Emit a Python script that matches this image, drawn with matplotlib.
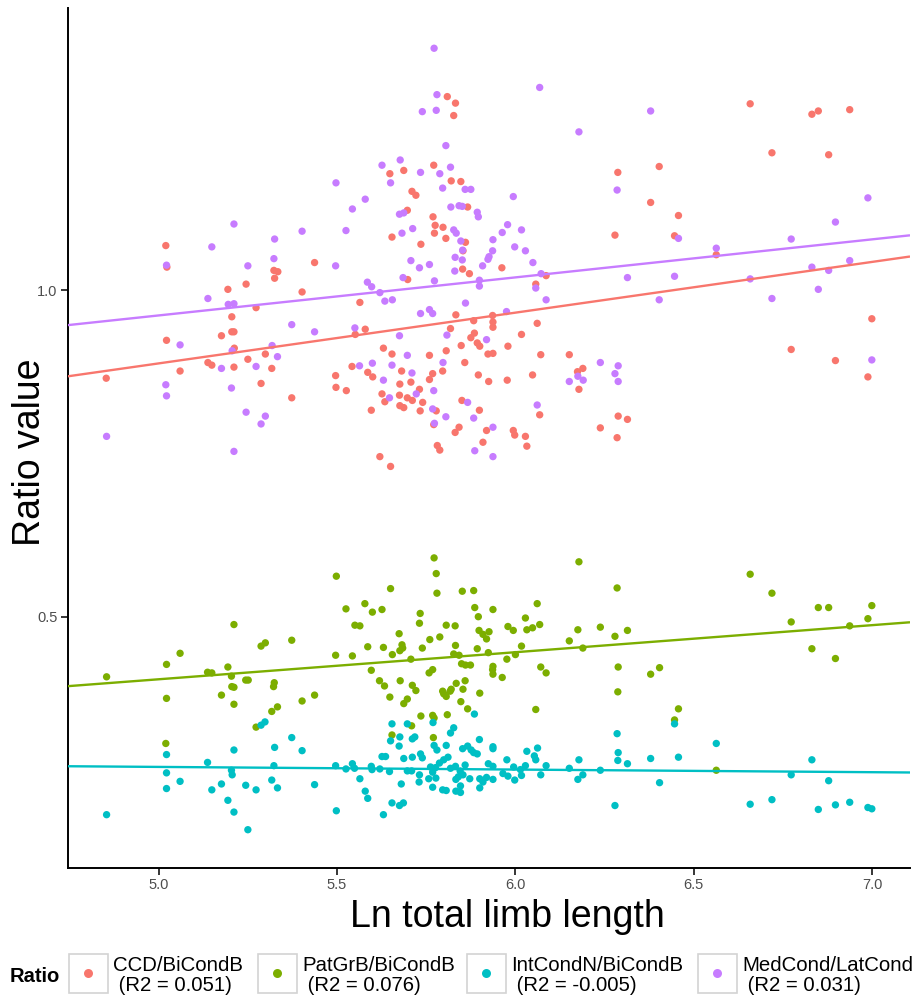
import numpy as np
import matplotlib
matplotlib.use("Agg")
import matplotlib.pyplot as plt
from matplotlib.patches import Rectangle

plt.rcParams["font.family"] = ["Liberation Sans", "DejaVu Sans"]

# ---- data: (Ln total limb length, ratio value) per specimen ----
ccd_points = [
    (5.809, 1.296), (5.832, 1.286), (5.827, 1.267), (5.771, 1.191), (5.648, 1.178),
    (5.687, 1.183), (5.820, 1.167), (5.847, 1.166), (5.710, 1.151), (5.721, 1.145),
    (5.866, 1.127), (5.697, 1.122), (5.769, 1.112), (5.775, 1.099), (5.797, 1.096),
    (5.773, 1.087), (5.654, 1.081), (5.805, 1.079), (5.860, 1.073), (5.020, 1.068),
    (5.735, 1.070), (5.853, 1.060), (5.023, 1.035), (5.437, 1.042), (5.962, 1.034),
    (5.852, 1.032), (5.323, 1.030), (5.334, 1.028), (5.325, 1.018), (5.871, 1.025),
    (5.698, 1.016), (5.245, 1.009), (5.194, 1.001), (5.402, 0.997), (5.564, 0.981),
    (5.273, 0.973), (5.833, 0.962), (5.936, 0.961), (5.205, 0.959), (5.883, 0.953),
    (5.937, 0.951), (5.937, 0.943), (5.579, 0.940), (5.818, 0.941), (5.205, 0.936),
    (5.211, 0.936), (5.885, 0.934), (5.551, 0.932), (5.176, 0.930), (5.875, 0.927),
    (5.022, 0.923), (5.893, 0.919), (5.900, 0.914), (5.848, 0.915), (5.979, 0.914),
    (5.630, 0.911), (5.212, 0.911), (5.806, 0.907), (5.654, 0.902), (5.299, 0.902),
    (5.923, 0.902), (5.937, 0.903), (5.759, 0.900), (5.250, 0.894), (5.138, 0.889),
    (5.149, 0.885), (5.858, 0.889), (5.542, 0.883), (5.211, 0.882), (5.317, 0.880),
    (5.681, 0.876), (5.796, 0.876), (5.060, 0.876), (5.586, 0.874), (5.768, 0.872),
    (5.600, 0.867), (5.496, 0.869), (5.896, 0.870), (4.853, 0.865), (5.977, 0.862),
    (5.707, 0.859), (5.759, 0.863), (5.925, 0.860), (5.676, 0.856), (5.287, 0.857),
    (5.497, 0.851), (5.731, 0.848), (5.526, 0.846), (5.626, 0.841), (5.373, 0.835),
    (5.675, 0.839), (5.697, 0.835), (5.850, 0.831), (5.634, 0.829), (5.711, 0.831),
    (5.740, 0.828), (5.676, 0.823), (5.687, 0.820), (5.778, 0.815), (5.733, 0.815),
    (5.596, 0.816), (5.899, 0.816), (5.771, 0.794), (5.842, 0.790), (5.919, 0.785),
    (5.994, 0.785), (5.831, 0.782), (5.998, 0.778), (5.909, 0.767), (5.781, 0.762),
    (5.788, 0.755), (5.620, 0.745), (5.650, 0.730), (6.658, 1.285), (6.831, 1.269),
    (6.849, 1.274), (6.937, 1.276), (6.719, 1.210), (6.878, 1.207), (6.287, 1.180),
    (6.403, 1.189), (6.379, 1.134), (6.457, 1.114), (6.279, 1.084), (6.446, 1.083),
    (6.563, 1.054), (6.086, 1.022), (6.057, 1.009), (6.999, 0.956), (6.061, 0.949),
    (6.017, 0.932), (6.773, 0.909), (6.897, 0.892), (6.988, 0.867), (6.071, 0.901),
    (6.151, 0.901), (6.174, 0.875), (6.189, 0.880), (6.178, 0.848), (6.048, 0.870),
    (6.068, 0.809), (6.288, 0.807), (6.314, 0.802), (6.238, 0.789), (6.285, 0.774),
    (6.028, 0.776), (6.032, 0.761),
]

patgrb_points = [
    (5.772, 0.590), (5.778, 0.566), (5.498, 0.562), (5.780, 0.536), (5.650, 0.543),
    (5.851, 0.539), (5.883, 0.540), (5.578, 0.520), (5.525, 0.512), (5.599, 0.507),
    (5.626, 0.511), (5.886, 0.514), (5.937, 0.511), (5.733, 0.505), (5.896, 0.500),
    (5.211, 0.488), (5.731, 0.490), (5.550, 0.487), (5.564, 0.486), (5.806, 0.487),
    (5.831, 0.486), (5.898, 0.479), (5.909, 0.473), (5.926, 0.477), (5.919, 0.466),
    (5.979, 0.485), (5.994, 0.479), (5.674, 0.474), (5.788, 0.469), (5.760, 0.465),
    (5.373, 0.464), (5.299, 0.460), (5.287, 0.455), (5.586, 0.454), (5.630, 0.453),
    (5.682, 0.457), (5.684, 0.452), (5.676, 0.448), (5.739, 0.452), (5.832, 0.456),
    (5.893, 0.451), (5.060, 0.444), (5.496, 0.441), (5.543, 0.440), (5.655, 0.442),
    (5.827, 0.443), (5.842, 0.441), (5.924, 0.445), (6.000, 0.442), (5.707, 0.435),
    (5.976, 0.435), (5.022, 0.427), (5.849, 0.428), (5.860, 0.426), (5.874, 0.426),
    (5.194, 0.423), (5.937, 0.424), (5.936, 0.419), (5.596, 0.418), (5.768, 0.419),
    (5.758, 0.414), (5.137, 0.415), (5.149, 0.414), (5.937, 0.412), (5.963, 0.407),
    (4.854, 0.408), (5.204, 0.409), (5.244, 0.403), (5.251, 0.403), (5.619, 0.402),
    (5.677, 0.402), (5.859, 0.402), (5.324, 0.399), (5.322, 0.393), (5.633, 0.394),
    (5.711, 0.395), (5.834, 0.398), (5.205, 0.393), (5.211, 0.392), (5.721, 0.387),
    (5.820, 0.389), (5.817, 0.386), (5.796, 0.386), (5.853, 0.389), (5.799, 0.382),
    (5.806, 0.378), (5.176, 0.380), (5.437, 0.380), (5.900, 0.383), (5.022, 0.375),
    (5.648, 0.377), (5.697, 0.374), (5.687, 0.367), (5.402, 0.371), (5.847, 0.370),
    (5.211, 0.366), (5.333, 0.362), (5.317, 0.355), (5.866, 0.359), (5.735, 0.348),
    (5.768, 0.349), (5.809, 0.350), (5.772, 0.345), (5.273, 0.331), (5.709, 0.333),
    (5.654, 0.319), (5.770, 0.315), (5.020, 0.306), (6.178, 0.584), (6.658, 0.565),
    (6.285, 0.544), (6.719, 0.536), (6.061, 0.520), (6.849, 0.514), (6.878, 0.514),
    (6.999, 0.517), (6.773, 0.492), (6.988, 0.497), (6.028, 0.498), (6.068, 0.488),
    (6.238, 0.484), (6.048, 0.483), (6.032, 0.480), (6.175, 0.480), (6.314, 0.479),
    (6.937, 0.486), (6.279, 0.470), (6.151, 0.463), (6.017, 0.455), (6.189, 0.452),
    (6.831, 0.451), (6.897, 0.436), (6.288, 0.423), (6.071, 0.423), (6.404, 0.422),
    (6.086, 0.414), (6.379, 0.412), (6.287, 0.385), (6.057, 0.358), (6.457, 0.359),
    (6.446, 0.342), (6.563, 0.265),
]

intcondn_points = [
    (5.885, 0.351), (5.769, 0.338), (5.654, 0.336), (5.697, 0.336), (5.298, 0.339),
    (5.287, 0.334), (5.827, 0.330), (5.818, 0.322), (5.718, 0.316), (5.711, 0.313),
    (5.676, 0.316), (5.650, 0.310), (5.373, 0.315), (5.899, 0.312), (5.674, 0.302),
    (5.772, 0.303), (5.780, 0.296), (5.806, 0.303), (5.866, 0.302), (5.852, 0.298),
    (5.876, 0.296), (5.883, 0.292), (5.893, 0.290), (5.937, 0.301), (5.937, 0.298),
    (5.211, 0.296), (5.325, 0.300), (5.402, 0.295), (5.022, 0.289), (5.734, 0.290),
    (5.739, 0.284), (5.687, 0.283), (5.711, 0.285), (5.811, 0.285), (5.799, 0.281),
    (5.787, 0.276), (5.626, 0.286), (5.636, 0.286), (5.976, 0.281), (5.137, 0.277),
    (5.543, 0.275), (5.924, 0.275), (5.937, 0.271), (5.859, 0.273), (5.496, 0.272),
    (5.323, 0.272), (5.596, 0.271), (5.818, 0.268), (5.832, 0.271), (5.762, 0.270),
    (5.776, 0.269), (5.525, 0.267), (5.549, 0.268), (5.598, 0.266), (5.620, 0.267),
    (5.995, 0.270), (6.014, 0.266), (5.204, 0.265), (5.647, 0.263), (5.697, 0.264),
    (5.709, 0.264), (5.768, 0.262), (5.022, 0.261), (5.206, 0.258), (5.731, 0.258),
    (5.845, 0.264), (5.853, 0.258), (5.965, 0.260), (5.979, 0.256), (5.900, 0.252),
    (5.919, 0.254), (5.937, 0.251), (5.998, 0.250), (5.757, 0.252), (5.777, 0.253),
    (5.840, 0.255), (5.833, 0.251), (5.872, 0.252), (5.564, 0.252), (5.060, 0.248),
    (5.317, 0.250), (5.730, 0.247), (5.909, 0.247), (5.176, 0.244), (5.244, 0.242),
    (5.437, 0.243), (5.680, 0.244), (5.022, 0.237), (5.149, 0.235), (5.273, 0.235),
    (5.333, 0.238), (5.768, 0.239), (5.796, 0.235), (5.806, 0.234), (5.900, 0.238),
    (5.846, 0.241), (5.833, 0.233), (5.846, 0.231), (5.579, 0.233), (5.586, 0.222),
    (5.194, 0.219), (5.654, 0.215), (5.686, 0.215), (5.675, 0.211), (5.211, 0.201),
    (5.498, 0.203), (5.630, 0.197), (4.854, 0.197), (5.250, 0.174), (6.285, 0.321),
    (6.563, 0.306), (6.446, 0.336), (6.288, 0.292), (6.287, 0.280), (6.314, 0.275),
    (6.379, 0.283), (6.457, 0.285), (6.831, 0.281), (6.062, 0.299), (6.053, 0.287),
    (6.057, 0.281), (6.032, 0.294), (6.028, 0.272), (6.086, 0.272), (6.071, 0.258),
    (6.017, 0.257), (6.151, 0.268), (6.178, 0.281), (6.175, 0.251), (6.189, 0.258),
    (6.238, 0.265), (6.404, 0.246), (6.279, 0.211), (6.773, 0.258), (6.878, 0.249),
    (6.658, 0.213), (6.719, 0.220), (6.849, 0.205), (6.897, 0.212), (6.937, 0.216),
    (6.988, 0.208), (6.999, 0.206),
]

medcond_points = [
    (5.772, 1.370), (5.780, 1.299), (5.739, 1.273), (5.778, 1.275), (5.805, 1.221),
    (5.677, 1.199), (5.626, 1.191), (5.818, 1.188), (5.734, 1.180), (5.788, 1.178),
    (5.497, 1.164), (5.650, 1.164), (5.796, 1.156), (5.859, 1.154), (5.875, 1.154),
    (5.579, 1.139), (5.994, 1.143), (5.819, 1.127), (5.842, 1.129), (5.851, 1.128),
    (5.543, 1.124), (5.675, 1.116), (5.687, 1.118), (5.893, 1.119), (5.896, 1.112),
    (5.211, 1.101), (5.978, 1.100), (5.712, 1.094), (5.827, 1.092), (5.834, 1.087),
    (5.963, 1.088), (5.402, 1.090), (5.525, 1.091), (5.682, 1.087), (5.325, 1.078),
    (5.937, 1.077), (5.847, 1.075), (5.149, 1.066), (5.998, 1.066), (5.852, 1.061),
    (5.936, 1.060), (5.831, 1.050), (5.926, 1.051), (5.923, 1.047), (5.323, 1.048),
    (5.851, 1.046), (5.707, 1.045), (5.022, 1.038), (5.250, 1.037), (5.496, 1.037),
    (5.731, 1.034), (5.759, 1.039), (5.908, 1.037), (5.830, 1.029), (5.685, 1.019),
    (5.773, 1.014), (5.899, 1.015), (5.585, 1.012), (5.597, 1.005), (5.899, 1.006),
    (5.620, 0.996), (5.138, 0.987), (5.634, 0.983), (5.655, 0.985), (5.195, 0.978),
    (5.211, 0.979), (5.860, 0.980), (5.759, 0.970), (5.768, 0.964), (5.734, 0.964),
    (5.975, 0.967), (5.373, 0.947), (5.550, 0.942), (5.437, 0.936), (5.675, 0.930),
    (5.808, 0.931), (5.919, 0.924), (5.060, 0.916), (5.318, 0.915), (5.206, 0.907),
    (5.333, 0.898), (5.697, 0.900), (5.599, 0.888), (5.654, 0.885), (5.797, 0.889),
    (5.563, 0.884), (5.176, 0.880), (5.273, 0.883), (5.710, 0.873), (5.630, 0.862),
    (5.020, 0.855), (5.204, 0.850), (5.771, 0.846), (5.722, 0.841), (5.022, 0.838),
    (5.647, 0.835), (5.866, 0.828), (5.768, 0.818), (5.245, 0.813), (5.299, 0.807),
    (5.805, 0.806), (5.883, 0.804), (5.773, 0.796), (5.287, 0.795), (5.937, 0.790),
    (4.854, 0.776), (5.886, 0.754), (5.211, 0.753), (5.937, 0.745), (6.068, 1.310),
    (6.178, 1.242), (6.379, 1.274), (6.285, 1.153), (6.988, 1.141), (6.897, 1.104),
    (6.457, 1.079), (6.773, 1.078), (6.563, 1.064), (6.937, 1.045), (6.831, 1.035),
    (6.878, 1.030), (6.049, 1.042), (6.072, 1.025), (6.314, 1.019), (6.446, 1.021),
    (6.658, 1.017), (6.057, 1.003), (6.086, 0.985), (6.403, 0.985), (6.719, 0.987),
    (6.849, 1.001), (6.999, 0.893), (6.238, 0.889), (6.288, 0.884), (6.279, 0.872),
    (6.288, 0.860), (6.151, 0.860), (6.175, 0.868), (6.190, 0.862), (6.061, 0.824),
    (6.017, 1.092), (6.028, 1.060),
]

series_names = ["CCD/BiCondB", "PatGrB/BiCondB", "IntCondN/BiCondB", "MedCond/LatCond"]
series_r2 = ["0.051", "0.076", "-0.005", "0.031"]
series_colors = ["#F8766D", "#7CAE00", "#00BFC4", "#C77CFF"]
series_points = [ccd_points, patgrb_points, intcondn_points, medcond_points]

x_ticks = [5.0, 5.5, 6.0, 6.5, 7.0]
y_ticks = [0.5, 1.0]

# ---- figure ----
W, H, DPI = 917, 1001, 100
fig = plt.figure(figsize=(W / DPI, H / DPI), dpi=DPI)
ax_l, ax_r, ax_t, ax_b = 67.7, 910.0, 8.0, 868.0
ax = fig.add_axes([ax_l / W, 1 - ax_b / H, (ax_r - ax_l) / W, (ax_b - ax_t) / H])

x_lim = (4.745, 7.106)
y_lim = (0.1154, 1.4316)
ax.set_xlim(*x_lim)
ax.set_ylim(*y_lim)

for pts, col in zip(series_points, series_colors):
    arr = np.asarray(pts)
    ax.scatter(arr[:, 0], arr[:, 1], s=28, color=col, edgecolors="none", zorder=2)

# least-squares trend per ratio, drawn across the whole panel
xx = np.array(x_lim)
for pts, col in zip(series_points, series_colors):
    arr = np.asarray(pts)
    slope, icpt = np.polyfit(arr[:, 0], arr[:, 1], 1)
    ax.plot(xx, icpt + slope * xx, color=col, lw=1.7, zorder=3, solid_capstyle="butt")

for side in ("top", "right"):
    ax.spines[side].set_visible(False)
for side in ("left", "bottom"):
    ax.spines[side].set_linewidth(1.4)
    ax.spines[side].set_color("black")

ax.set_xticks(x_ticks)
ax.set_xticklabels([f"{v:.1f}" for v in x_ticks])
ax.set_yticks(y_ticks)
ax.set_yticklabels([f"{v:.1f}" for v in y_ticks])
ax.tick_params(axis="both", length=4.8, width=1.1, color="black",
               labelsize=10.5, labelcolor="#4D4D4D", pad=2.5)

ax.set_xlabel("Ln total limb length", fontsize=27)
ax.xaxis.label.set_va("baseline")
ax.xaxis.set_label_coords((507 - ax_l) / (ax_r - ax_l), (ax_b - 927) / (ax_b - ax_t))

ax.set_ylabel("Ratio value", fontsize=27)
ax.yaxis.label.set_rotation_mode("anchor")
ax.yaxis.label.set_va("baseline")
ax.yaxis.label.set_ha("center")
ax.yaxis.set_label_coords((40 - ax_l) / (ax_r - ax_l), (ax_b - 452) / (ax_b - ax_t))

# ---- legend strip along the bottom (pixel coordinates) ----
lg = fig.add_axes([0, 0, 1, 1], facecolor="none")
lg.set_xlim(0, W)
lg.set_ylim(H, 0)
lg.axis("off")

lg.text(10, 982, "Ratio", fontsize=14.5, fontweight="bold", ha="left", va="baseline")
key_left = [69, 258, 467, 698]
key_top, key_size = 954, 39
for kx, name, r2, col in zip(key_left, series_names, series_r2, series_colors):
    lg.add_patch(Rectangle((kx, key_top), key_size, key_size, facecolor="white",
                           edgecolor="#D3D3D3", lw=1.2))
    lg.scatter([kx + key_size / 2], [key_top + key_size / 2], s=42, color=col,
               edgecolors="none")
    lg.text(kx + 44, 970.7, name, fontsize=14.7, ha="left", va="baseline")
    lg.text(kx + 44, 990.7, f" (R2 = {r2})", fontsize=14.7, ha="left", va="baseline")

fig.savefig("out.png", dpi=DPI)
